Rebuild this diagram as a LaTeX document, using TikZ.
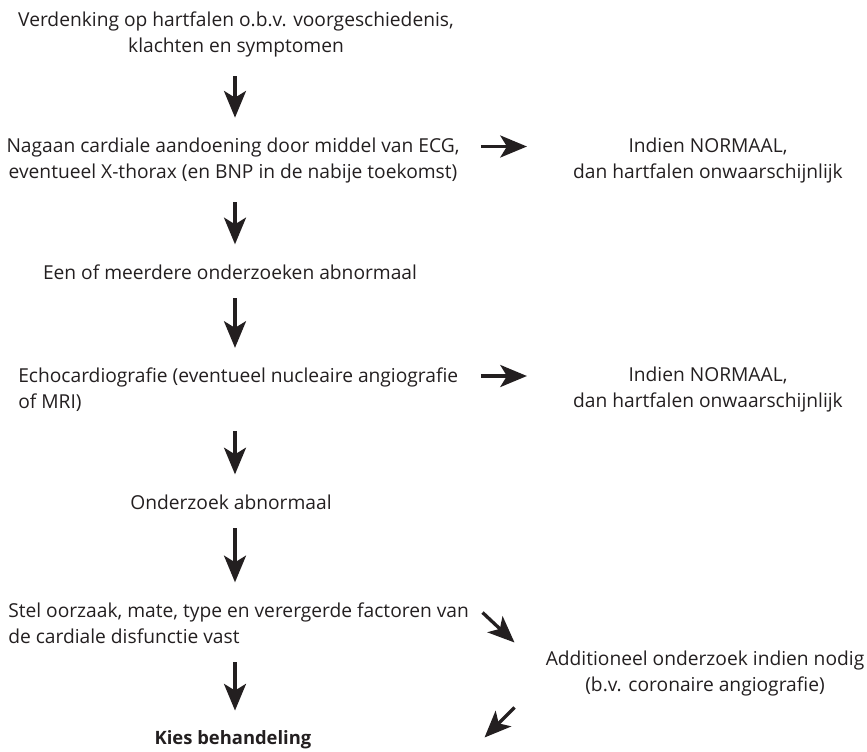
\documentclass[tikz,border=0pt]{standalone}
\usepackage{fontspec}
\setmainfont{Open Sans}
\usetikzlibrary{arrows.meta,calc}
\definecolor{ink}{RGB}{35,31,32}
\begin{document}
\begin{tikzpicture}[x=0.75pt,y=-0.75pt,
  txt/.style={inner sep=0pt,text=ink,font=\fontsize{14.4pt}{19.5pt}\selectfont},
  arr/.style={draw=ink,line width=2.5pt,-{Stealth[length=20pt,width=16.5pt,inset=5pt]}},
  down/.style={arr,shorten <=14pt,shorten >=15pt}]
\useasboundingbox (0,0) rectangle (867,751);
\coordinate (axis) at (235,0);
\node[txt,align=center] (n1) at (236,34.5) {Verdenking op hartfalen o.b.v. voorgeschiedenis,\\klachten en symptomen};
\node[txt,align=center] (n2) at (233,160.5) {Nagaan cardiale aandoening door middel van ECG,\\eventueel X-thorax (en BNP in de nabije toekomst)};
\node[txt,align=center] (n3) at (230,272) {Een of meerdere onderzoeken abnormaal};
\node[txt,align=left,anchor=west] (n4) at (18,390) {Echocardiografie (eventueel nucleaire angiografie\\of MRI)};
\node[txt,align=center] (n5) at (231,502) {Onderzoek abnormaal};
\node[txt,align=left,anchor=west] (n6) at (8,623) {Stel oorzaak, mate, type en verergerde factoren van\\de cardiale disfunctie vast};
\node[txt,font=\fontsize{13.8pt}{19.5pt}\selectfont\bfseries] (n7) at (233,740) {Kies behandeling};
\node[txt,align=center] (r1) at (708,160.5) {Indien NORMAAL,\\dan hartfalen onwaarschijnlijk};
\node[txt,align=center] (r2) at (708,390) {Indien NORMAAL,\\dan hartfalen onwaarschijnlijk};
\node[txt,align=center] (r3) at (705,673.5) {Additioneel onderzoek indien nodig\\(b.v. coronaire angiografie)};
\draw[down] (n1.south -| axis) -- (n2.north -| axis);
\draw[down] (n2.south -| axis) -- (n3.north -| axis);
\draw[down] (n3.south -| axis) -- (n4.north -| axis);
\draw[down] (n4.south -| axis) -- (n5.north -| axis);
\draw[down] (n5.south -| axis) -- (n6.north -| axis);
\draw[down] (n6.south -| axis) -- (n7.north -| axis);
\draw[arr] ($(r1.west)+(-92,-14)$) -- ($(r1.west)+(-46,-14)$);
\draw[arr] ($(r2.west)+(-92,-14)$) -- ($(r2.west)+(-46,-14)$);
\draw[arr] ($(r3.west)+(-63,-61)$) -- ($(r3.west)+(-31,-31)$);
\draw[arr] ($(r3.west)+(-31,34)$) -- ($(r3.west)+(-61,64)$);
\end{tikzpicture}
\end{document}
